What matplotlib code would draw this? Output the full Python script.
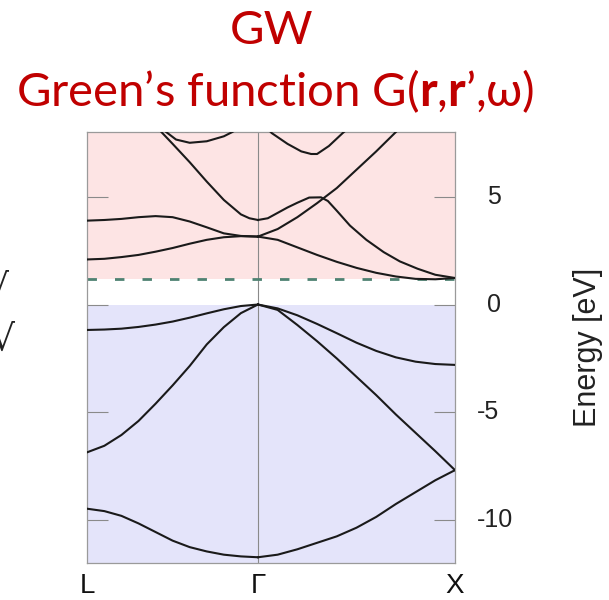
import numpy as np
import matplotlib

matplotlib.use("Agg")
import matplotlib.pyplot as plt

plt.rcParams["font.family"] = ["Liberation Sans", "DejaVu Sans"]
plt.rcParams["mathtext.fontset"] = "custom"
plt.rcParams["mathtext.rm"] = "Lato"
plt.rcParams["mathtext.bf"] = "Lato:bold"

# --------------------------------------------------------------------------- #
# Band energies (eV) of Si along L-Gamma-X, valence top at 0
# --------------------------------------------------------------------------- #
# fractional positions along each branch
F_LG = [0.0, 0.1, 0.2, 0.3, 0.4, 0.5, 0.6, 0.7, 0.8, 0.9, 1.0]
F_GX = [0.0, 0.1, 0.2, 0.3, 0.4, 0.5, 0.6, 0.7, 0.8, 0.9, 1.0]

# valence bands, L -> Gamma
V1_LG = [-9.47, -9.58, -9.80, -10.15, -10.55, -10.95, -11.25, -11.45, -11.60, -11.68, -11.72]
V2_LG = [-6.85, -6.55, -6.05, -5.40, -4.60, -3.75, -2.85, -1.85, -1.05, -0.40, 0.0]
V3_LG = [-1.18, -1.16, -1.12, -1.04, -0.93, -0.79, -0.61, -0.41, -0.22, -0.07, 0.0]
# valence bands, Gamma -> X
V1_GX = [-11.72, -11.60, -11.35, -11.05, -10.75, -10.35, -9.85, -9.25, -8.70, -8.15, -7.68]
V2_GX = [0.0, -0.25, -0.95, -1.70, -2.50, -3.35, -4.20, -5.10, -5.95, -6.80, -7.68]
V3_GX = [0.0, -0.18, -0.50, -0.90, -1.33, -1.77, -2.15, -2.45, -2.65, -2.76, -2.80]

# conduction bands, L -> Gamma
C1_LG = [2.09, 2.12, 2.20, 2.30, 2.45, 2.62, 2.82, 3.00, 3.12, 3.17, 3.15]
C2_LG = [3.89, 3.92, 3.97, 4.05, 4.10, 4.05, 3.85, 3.58, 3.30, 3.18, 3.15]
C3_LG_K = [0.38, 0.434, 0.5, 0.6, 0.7, 0.8, 0.9, 0.95, 1.0]
C3_LG = [8.50, 8.00, 7.45, 6.60, 5.70, 4.85, 4.18, 4.00, 3.92]
C4_LG_K = [0.44, 0.462, 0.52, 0.6, 0.7, 0.8, 0.85, 0.9, 1.0]
C4_LG = [8.20, 8.00, 7.65, 7.50, 7.57, 7.80, 8.00, 8.25, 8.60]

# conduction bands, Gamma -> X
C1_GX = [3.15, 3.00, 2.65, 2.30, 1.98, 1.70, 1.47, 1.30, 1.19, 1.17, 1.23]
C2_GX_K = [0.0, 0.1, 0.2, 0.3, 0.4, 0.5, 0.6, 0.7, 0.75]
C2_GX = [3.15, 3.50, 4.05, 4.70, 5.40, 6.25, 7.10, 8.00, 8.45]
C3_GX_K = [0.0, 0.05, 0.1, 0.15, 0.2, 0.26, 0.32, 0.355, 0.4, 0.467, 0.55, 0.638, 0.72, 0.81, 0.9, 1.0]
C3_GX = [3.92, 4.00, 4.25, 4.50, 4.72, 4.96, 4.97, 4.80, 4.35, 3.66, 3.00, 2.43, 2.00, 1.66, 1.38, 1.23]
C4_GX_K = [0.0, 0.07, 0.15, 0.22, 0.27, 0.3, 0.36, 0.43, 0.5]
C4_GX = [8.60, 7.95, 7.45, 7.10, 6.98, 6.98, 7.35, 7.95, 8.50]

VBM = 0.0
CBM = 1.17

KPOINT_LABELS = ["L", "Γ", "X"]
YTICKS = [5, 0, -5, -10]
YTICKLABELS = ["5", "0", "-5", "-10"]

# path lengths in units of 2*pi/a
K_G = np.sqrt(3) / 2
K_X = K_G + 1.0

BAND_COLOR = "#1a1a1a"
FRAME_COLOR = "#9a9a9a"
RED = "#c00000"

fig = plt.figure(figsize=(6.09, 6.0), dpi=100)
ax = fig.add_axes([87.3 / 609, 36.7 / 600, 367.7 / 609, 431.3 / 600])

ax.axhspan(CBM, 8, color="#fde4e4", lw=0, zorder=0)
ax.axhspan(-12, VBM, color="#e4e4fa", lw=0, zorder=0)
ax.axvline(K_G, color="#8a8a8a", lw=0.8, zorder=1)
ax.axhline(CBM, color="#4f8272", lw=2.0, dashes=(3.4, 6.5), zorder=2)


def lg(f):
    return np.asarray(f) * K_G


def gx(f):
    return K_G + np.asarray(f)


for e in (V1_LG, V2_LG, V3_LG, C1_LG, C2_LG):
    ax.plot(lg(F_LG), e, color=BAND_COLOR, lw=1.5, zorder=3)
for e in (V1_GX, V2_GX, V3_GX, C1_GX):
    ax.plot(gx(F_GX), e, color=BAND_COLOR, lw=1.5, zorder=3)
ax.plot(lg(C3_LG_K), C3_LG, color=BAND_COLOR, lw=1.5, zorder=3)
ax.plot(lg(C4_LG_K), C4_LG, color=BAND_COLOR, lw=1.5, zorder=3)
ax.plot(gx(C2_GX_K), C2_GX, color=BAND_COLOR, lw=1.5, zorder=3)
ax.plot(gx(C3_GX_K), C3_GX, color=BAND_COLOR, lw=1.5, zorder=3)
ax.plot(gx(C4_GX_K), C4_GX, color=BAND_COLOR, lw=1.5, zorder=3)

ax.set_xlim(0, K_X)
ax.set_ylim(-12, 8)
for sp in ax.spines.values():
    sp.set_color(FRAME_COLOR)
    sp.set_linewidth(0.9)

ax.set_xticks([0, K_G, K_X], KPOINT_LABELS)
ax.tick_params(axis="x", length=0, pad=7, labelsize=20, labelcolor="#111111")
ax.set_yticks(YTICKS)
ax.tick_params(axis="y", left=True, right=True, labelleft=False, labelright=False,
               direction="in", length=15, width=0.8, color="#8a8a8a")
# right-hand labels, minus sign hanging out to the left
for v, s in zip(YTICKS, YTICKLABELS):
    dx = 15.6 if s.startswith("-") else 22.8
    ax.annotate(s, xy=(1, v), xycoords=("axes fraction", "data"),
                xytext=(dx, 0), textcoords="offset points",
                ha="left", va="center", fontsize=18, color="#222222")

ax.set_ylabel("Energy [eV]", fontsize=22, color="#222222")
ax.yaxis.set_label_position("right")
ax.yaxis.set_label_coords(1.362, 0.5)
ax.yaxis.label.set_va("center")

title_font = dict(color=RED, fontsize=34, family=["Lato", "DejaVu Sans"],
                  ha="center", va="baseline")
fig.text(272 / 609, 1 - 44 / 600, "GW", **title_font)
fig.text(275 / 609, 1 - 106 / 600,
         r"Green’s function G($\mathbf{r}$,$\mathbf{r}$’,ω)", **title_font)

# ticks of a neighbouring list, cut by the left edge
fig.text(15 / 609, 1 - 350 / 600, "√", ha="right", va="baseline",
         fontsize=26, color="#222222", family="DejaVu Sans")
fig.text(9 / 609, 1 - 299 / 600, "√", ha="right", va="baseline",
         fontsize=26, color="#222222", family="DejaVu Sans")

fig.savefig("out.png", dpi=100)
